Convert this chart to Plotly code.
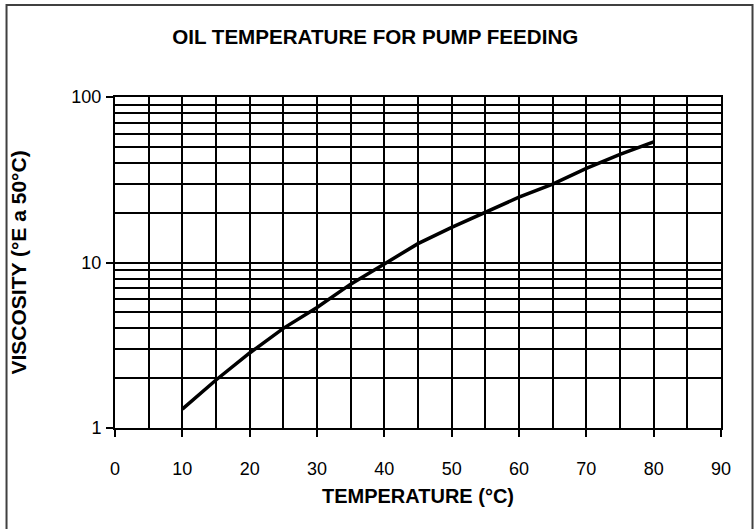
import plotly.graph_objects as go

temperature = [10, 15, 20, 25, 30, 35, 40, 45, 50, 55, 60, 65, 70, 75, 80]
viscosity = [1.30, 1.95, 2.84, 4.0, 5.35, 7.4, 9.8, 13.0, 16.3, 20.2, 24.8, 29.8, 37.0, 45.0, 53.5]

x_ticks = [0, 10, 20, 30, 40, 50, 60, 70, 80, 90]
y_ticks = [1, 10, 100]
y_ticktext = ["1", "10", "100"]

FONT = "Liberation Sans, Arial, sans-serif"

fig = go.Figure()
fig.add_trace(go.Scatter(
    x=temperature, y=viscosity, mode="lines",
    line=dict(color="black", width=3.5),
    showlegend=False, hoverinfo="skip",
))

fig.update_layout(
    width=755, height=529,
    margin=dict(l=115, r=34, t=97, b=101),
    paper_bgcolor="white", plot_bgcolor="white",
    font=dict(family=FONT, color="black", size=18),
    title=dict(text="<b>OIL TEMPERATURE FOR PUMP FEEDING</b>",
               x=0.497, xanchor="center", y=0.930, yanchor="middle",
               font=dict(size=20.6, family=FONT, color="black")),
    shapes=[dict(type="rect", xref="paper", yref="paper",
                 x0=-0.179, x1=1.052, y0=-0.33, y1=1.278,
                 line=dict(color="#404040", width=2), fillcolor="rgba(0,0,0,0)",
                 layer="below")],
    annotations=[dict(text="<b>VISCOSITY (°E a 50°C)</b>", textangle=-90,
                      xref="paper", yref="paper", x=(18 - 115) / 606, y=0.5,
                      xanchor="center", yanchor="middle", showarrow=False,
                      font=dict(size=21, family=FONT, color="black"))],
)

fig.update_xaxes(
    range=[0, 90], tickvals=x_ticks,
    showgrid=True, gridcolor="black", gridwidth=2,
    minor=dict(dtick=5, showgrid=True, gridcolor="black", gridwidth=2),
    showline=True, linecolor="black", linewidth=2, mirror=True,
    ticks="outside", ticklen=7, tickwidth=2, tickcolor="black",
    ticklabelstandoff=16,
    tickfont=dict(size=18, family=FONT),
    title=dict(text="<b>TEMPERATURE (°C)</b>", font=dict(size=20, family=FONT), standoff=11),
    zeroline=False,
)

fig.update_yaxes(
    type="log", range=[0, 2], tickvals=y_ticks, ticktext=y_ticktext,
    showgrid=True, gridcolor="black", gridwidth=2,
    minor=dict(tickvals=[2, 3, 4, 5, 6, 7, 8, 9, 20, 30, 40, 50, 60, 70, 80, 90],
               showgrid=True, gridcolor="black", gridwidth=2),
    showline=True, linecolor="black", linewidth=2, mirror=True,
    ticks="outside", ticklen=7, tickwidth=2, tickcolor="black",
    ticklabelstandoff=1,
    tickfont=dict(size=18, family=FONT),
    zeroline=False,
)

fig.write_html("out.html", config={"displayModeBar": False},
               post_script="document.body.style.margin='0';")
